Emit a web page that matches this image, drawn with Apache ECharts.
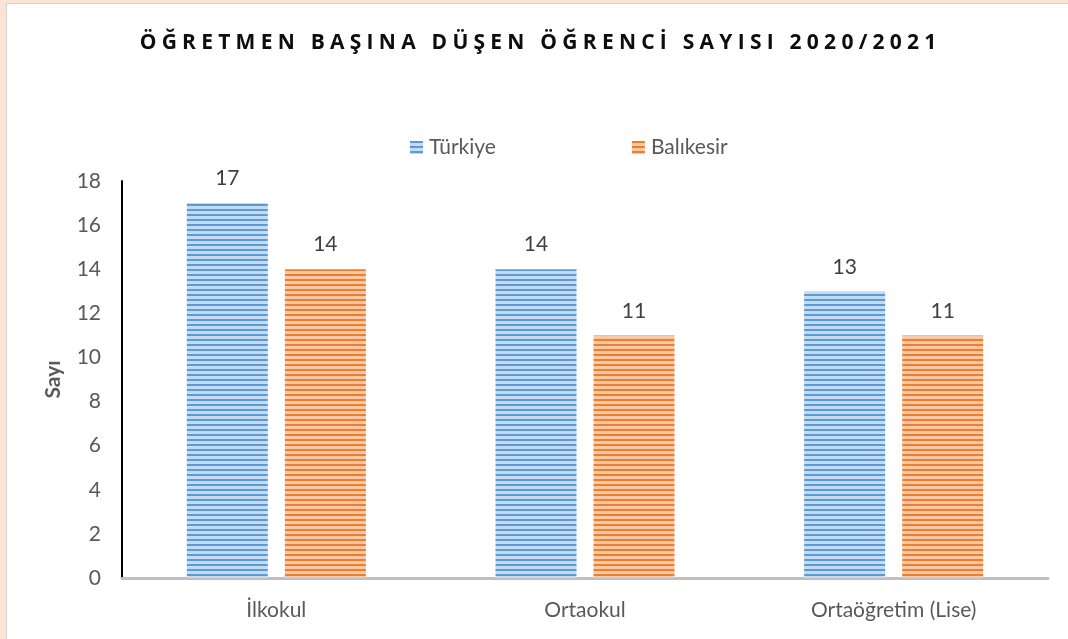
<!DOCTYPE html>
<html><head><meta charset="utf-8">
<script src="https://cdn.jsdelivr.net/npm/echarts@6/dist/echarts.min.js"></script>
<style>
html,body{margin:0;padding:0;background:#FBE4D6;width:1068px;height:639px;overflow:hidden;}
#frame{position:absolute;left:6px;top:3px;width:1062px;height:636px;background:#fff;border-left:1px solid #d4d4d4;border-top:1px solid #d4d4d4;}
#c{width:1062px;height:636px;}
</style></head><body>
<div id="frame"><div id="c"></div></div>
<script>
const titleText = 'ÖĞRETMEN BAŞINA DÜŞEN ÖĞRENCİ SAYISI 2020/2021';
const categories = ['İlkokul', 'Ortaokul', 'Ortaöğretim (Lise)'];
const seriesNames = ['Türkiye', 'Balıkesir'];
const turkiye = [17, 14, 13];
const balikesir = [14, 11, 11];
const yTicks = [0, 2, 4, 6, 8, 10, 12, 14, 16, 18];

function stripes(dark, light) {
  const cv = document.createElement('canvas');
  cv.width = 4; cv.height = 5;
  const ctx = cv.getContext('2d');
  ctx.fillStyle = light; ctx.fillRect(0, 0, 4, 5);
  ctx.fillStyle = dark; ctx.fillRect(0, 0, 4, 2);
  return { image: cv, repeat: 'repeat' };
}
const blue = stripes('#5B9BD5', '#C4DBF1');
const orange = stripes('#ED7D31', '#F9C9A6');
const spaced = titleText.split('').join('\u2005');

const chart = echarts.init(document.getElementById('c'));
const labelStyle = { show: true, position: 'top', distance: 14, color: '#404040', fontSize: 21, fontFamily: 'Lato' };
chart.setOption({
  animation: false,
  textStyle: { fontFamily: 'Lato' },
  title: {
    text: spaced, left: 'center', top: 24,
    textStyle: { fontFamily: 'Open Sans', fontWeight: 'bold', fontSize: 21, color: '#0d0d0d' }
  },
  legend: {
    data: seriesNames, top: 128, left: 398, itemGap: 136,
    icon: 'rect', itemWidth: 13, itemHeight: 13,
    textStyle: { fontSize: 21, color: '#595959', fontFamily: 'Lato', padding: [0, 0, 0, 1] }
  },
  grid: { left: 115, top: 177, width: 926, height: 397, containLabel: false },
  xAxis: {
    type: 'category', data: categories,
    axisLine: { lineStyle: { color: '#BFBFBF', width: 3 } },
    axisTick: { show: false },
    axisLabel: { fontSize: 21, color: '#595959', margin: 22, fontFamily: 'Lato' }
  },
  yAxis: {
    type: 'value', min: yTicks[0], max: yTicks[yTicks.length - 1], interval: 2,
    name: 'Sayı', nameLocation: 'middle', nameRotate: 90, nameGap: 58,
    nameTextStyle: { fontSize: 21, fontWeight: 'bold', color: '#595959', fontFamily: 'Lato' },
    axisLine: { show: true, lineStyle: { color: '#000', width: 2 } },
    axisTick: { show: false },
    splitLine: { show: false },
    axisLabel: { fontSize: 21, color: '#595959', margin: 21, fontFamily: 'Lato' }
  },
  series: [
    { name: seriesNames[0], type: 'bar', data: turkiye, barWidth: 81, barGap: '21%',
      itemStyle: { color: blue }, label: labelStyle },
    { name: seriesNames[1], type: 'bar', data: balikesir, barWidth: 81,
      itemStyle: { color: orange }, label: labelStyle }
  ]
});
</script>
</body></html>
